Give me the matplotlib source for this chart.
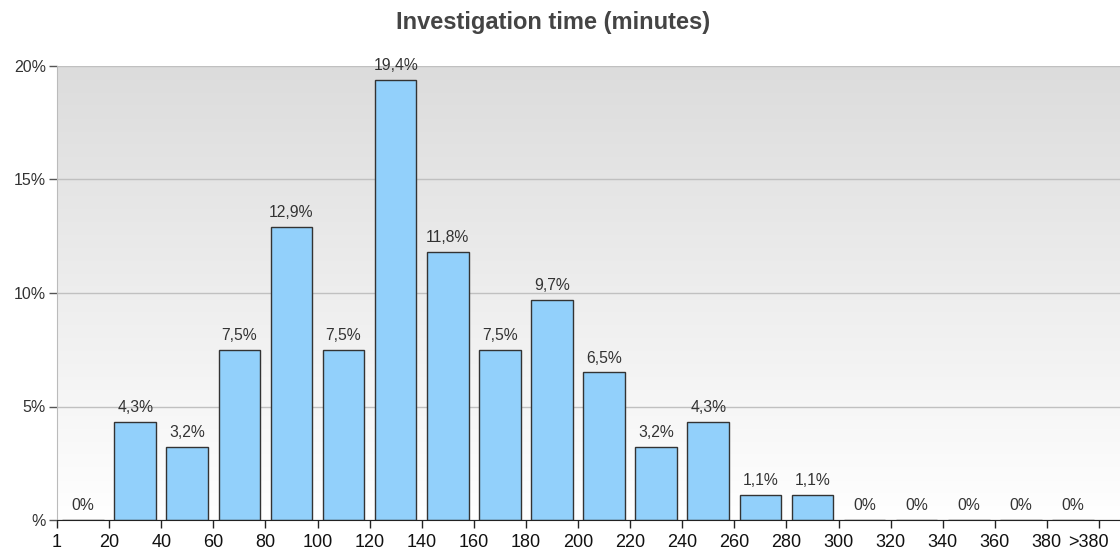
import matplotlib.pyplot as plt
import matplotlib.transforms as mtransforms
import numpy as np

plt.rcParams['font.family'] = ['Liberation Sans', 'DejaVu Sans']

edge_labels = ['1', '20', '40', '60', '80', '100', '120', '140', '160', '180', '200',
               '220', '240', '260', '280', '300', '320', '340', '360', '380', '>380']
values = [0, 4.3, 3.2, 7.5, 12.9, 7.5, 19.4, 11.8, 7.5, 9.7,
          6.5, 3.2, 4.3, 1.1, 1.1, 0, 0, 0, 0, 0]
value_labels = ['0%', '4,3%', '3,2%', '7,5%', '12,9%', '7,5%', '19,4%', '11,8%', '7,5%', '9,7%',
                '6,5%', '3,2%', '4,3%', '1,1%', '1,1%', '0%', '0%', '0%', '0%', '0%']
y_ticks = [0, 5, 10, 15, 20]
y_tick_labels = ['%', '5%', '10%', '15%', '20%']

fig = plt.figure(figsize=(11.2, 5.54), dpi=100)
ax = fig.add_axes([57 / 1120, 34 / 554, 1 - 57 / 1120, 454 / 554])

# gradient background
grad = np.linspace(0, 1, 256).reshape(-1, 1)
ax.imshow(grad, cmap=plt.matplotlib.colors.LinearSegmentedColormap.from_list('bg', ['#ffffff', '#dcdcdc']),
          extent=[0, 1, 0, 1], transform=ax.transAxes, aspect='auto', origin='lower', zorder=0)

x = np.arange(len(values)) + 0.5
bars = ax.bar(x, values, width=0.8, color='#92d0fb', edgecolor='#333333', linewidth=1, zorder=3)

for xi, v, lab in zip(x, values, value_labels):
    ax.annotate(lab, (xi, v), xytext=(0, 5), textcoords='offset points',
                ha='center', va='bottom', fontsize=11.3, color='#333333', zorder=4)

ax.set_xlim(0, 1063 / 52.1)
ax.set_ylim(0, 20)
ax.set_xticks(np.arange(len(edge_labels)))
ax.set_xticklabels(edge_labels, fontsize=13, color='#111111')
ax.set_yticks(y_ticks)
ax.set_yticklabels(y_tick_labels, fontsize=11.5, color='#333333')
ax.yaxis.grid(True, color='#c0c0c0', linewidth=1, zorder=1)
ax.set_axisbelow(True)

ax.tick_params(axis='x', length=6, width=1, color='#222222', pad=4)
ax.tick_params(axis='y', length=6, width=1, color='#555555', pad=2)

# last label is pushed left so it fits
last = ax.get_xticklabels()[-1]
last.set_transform(last.get_transform() + mtransforms.ScaledTranslation(-0.11, 0, fig.dpi_scale_trans))

for s in ['top', 'right']:
    ax.spines[s].set_visible(False)
ax.spines['left'].set_color('#bbbbbb')
ax.spines['bottom'].set_color('#222222')
ax.spines['bottom'].set_zorder(5)

fig.suptitle('Investigation time (minutes)', x=0.494, y=0.98, fontsize=17,
             fontweight='bold', color='#444444')

fig.savefig('out.png', dpi=100)
